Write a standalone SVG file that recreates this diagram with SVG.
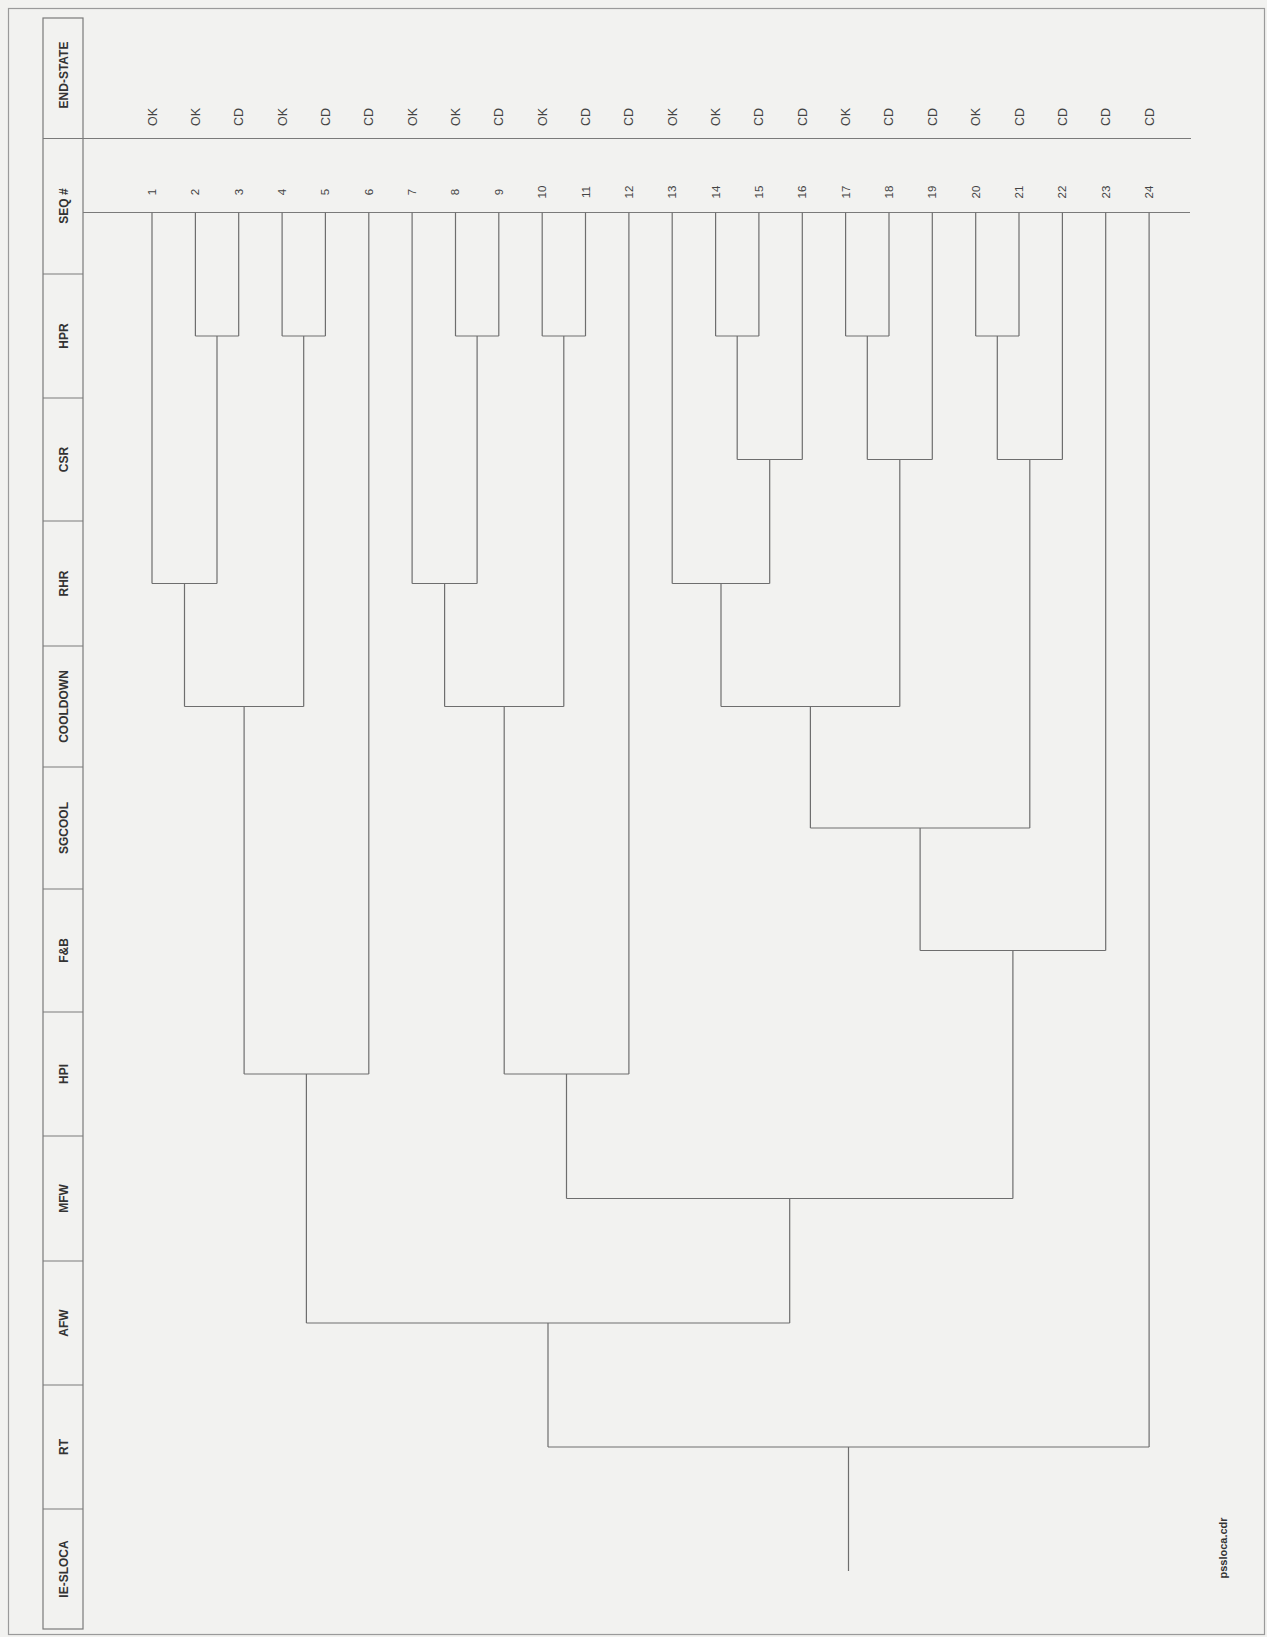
<svg xmlns="http://www.w3.org/2000/svg" width="1267" height="1637" viewBox="0 0 1267 1637">
<style>
.bg{fill:#f2f2f0}
.frame{fill:none;stroke:#9a9a9a;stroke-width:1.2}
.col{fill:none;stroke:#7a7a7a;stroke-width:1.2}
.ln{fill:none;stroke:#6e6e6e;stroke-width:1.2}
.hd{font-family:"Liberation Sans",Arial,sans-serif;font-size:12px;font-weight:bold;fill:#333;text-anchor:middle}
.es{font-family:"Liberation Sans",Arial,sans-serif;font-size:12.5px;fill:#444;text-anchor:middle}
.sq{font-family:"Liberation Sans",Arial,sans-serif;font-size:11.5px;fill:#444;text-anchor:middle}
</style>
<rect class="bg" x="0" y="0" width="1267" height="1637"/>
<rect class="frame" x="8.5" y="8.5" width="1256" height="1626"/>

<g id="headers">
<rect class="col" x="43" y="18" width="40" height="1611"/>
<g id="h-endstate"><text class="hd" transform="translate(67.5,75) rotate(-90)">END-STATE</text></g>
<line class="col" x1="43" y1="138.5" x2="83" y2="138.5"/>
<g id="h-seq"><text class="hd" transform="translate(67.5,206) rotate(-90)">SEQ #</text></g>
<line class="col" x1="43" y1="274" x2="83" y2="274"/>
<g id="h-hpr"><text class="hd" transform="translate(67.5,336) rotate(-90)">HPR</text></g>
<line class="col" x1="43" y1="398" x2="83" y2="398"/>
<g id="h-csr"><text class="hd" transform="translate(67.5,459.5) rotate(-90)">CSR</text></g>
<line class="col" x1="43" y1="521" x2="83" y2="521"/>
<g id="h-rhr"><text class="hd" transform="translate(67.5,583.5) rotate(-90)">RHR</text></g>
<line class="col" x1="43" y1="646" x2="83" y2="646"/>
<g id="h-cooldown"><text class="hd" transform="translate(67.5,706.5) rotate(-90)">COOLDOWN</text></g>
<line class="col" x1="43" y1="767" x2="83" y2="767"/>
<g id="h-sgcool"><text class="hd" transform="translate(67.5,828) rotate(-90)">SGCOOL</text></g>
<line class="col" x1="43" y1="889" x2="83" y2="889"/>
<g id="h-fb"><text class="hd" transform="translate(67.5,950.5) rotate(-90)">F&amp;B</text></g>
<line class="col" x1="43" y1="1012" x2="83" y2="1012"/>
<g id="h-hpi"><text class="hd" transform="translate(67.5,1074) rotate(-90)">HPI</text></g>
<line class="col" x1="43" y1="1136" x2="83" y2="1136"/>
<g id="h-mfw"><text class="hd" transform="translate(67.5,1198.5) rotate(-90)">MFW</text></g>
<line class="col" x1="43" y1="1261" x2="83" y2="1261"/>
<g id="h-afw"><text class="hd" transform="translate(67.5,1323) rotate(-90)">AFW</text></g>
<line class="col" x1="43" y1="1385" x2="83" y2="1385"/>
<g id="h-rt"><text class="hd" transform="translate(67.5,1447) rotate(-90)">RT</text></g>
<line class="col" x1="43" y1="1509" x2="83" y2="1509"/>
<g id="h-ie"><text class="hd" transform="translate(67.5,1569) rotate(-90)">IE-SLOCA</text></g>
</g>

<g id="rules">
<line class="col" x1="83" y1="138.5" x2="1191" y2="138.5"/>
<line class="col" x1="83" y1="212.5" x2="1190" y2="212.5"/>
</g>

<g id="sequences">
<g id="seq1"><text class="es" transform="translate(156.5,117) rotate(-90)">OK</text><text class="sq" transform="translate(156,192) rotate(-90)">1</text></g>
<g id="seq2"><text class="es" transform="translate(199.8,117) rotate(-90)">OK</text><text class="sq" transform="translate(199.3,192) rotate(-90)">2</text></g>
<g id="seq3"><text class="es" transform="translate(243.2,117) rotate(-90)">CD</text><text class="sq" transform="translate(242.7,192) rotate(-90)">3</text></g>
<g id="seq4"><text class="es" transform="translate(286.5,117) rotate(-90)">OK</text><text class="sq" transform="translate(286,192) rotate(-90)">4</text></g>
<g id="seq5"><text class="es" transform="translate(329.9,117) rotate(-90)">CD</text><text class="sq" transform="translate(329.4,192) rotate(-90)">5</text></g>
<g id="seq6"><text class="es" transform="translate(373.2,117) rotate(-90)">CD</text><text class="sq" transform="translate(372.7,192) rotate(-90)">6</text></g>
<g id="seq7"><text class="es" transform="translate(416.6,117) rotate(-90)">OK</text><text class="sq" transform="translate(416.1,192) rotate(-90)">7</text></g>
<g id="seq8"><text class="es" transform="translate(459.9,117) rotate(-90)">OK</text><text class="sq" transform="translate(459.4,192) rotate(-90)">8</text></g>
<g id="seq9"><text class="es" transform="translate(503.3,117) rotate(-90)">CD</text><text class="sq" transform="translate(502.8,192) rotate(-90)">9</text></g>
<g id="seq10"><text class="es" transform="translate(546.6,117) rotate(-90)">OK</text><text class="sq" transform="translate(546.1,192) rotate(-90)">10</text></g>
<g id="seq11"><text class="es" transform="translate(590,117) rotate(-90)">CD</text><text class="sq" transform="translate(589.5,192) rotate(-90)">11</text></g>
<g id="seq12"><text class="es" transform="translate(633.3,117) rotate(-90)">CD</text><text class="sq" transform="translate(632.8,192) rotate(-90)">12</text></g>
<g id="seq13"><text class="es" transform="translate(676.7,117) rotate(-90)">OK</text><text class="sq" transform="translate(676.2,192) rotate(-90)">13</text></g>
<g id="seq14"><text class="es" transform="translate(720,117) rotate(-90)">OK</text><text class="sq" transform="translate(719.5,192) rotate(-90)">14</text></g>
<g id="seq15"><text class="es" transform="translate(763.4,117) rotate(-90)">CD</text><text class="sq" transform="translate(762.9,192) rotate(-90)">15</text></g>
<g id="seq16"><text class="es" transform="translate(806.7,117) rotate(-90)">CD</text><text class="sq" transform="translate(806.2,192) rotate(-90)">16</text></g>
<g id="seq17"><text class="es" transform="translate(850.1,117) rotate(-90)">OK</text><text class="sq" transform="translate(849.6,192) rotate(-90)">17</text></g>
<g id="seq18"><text class="es" transform="translate(893.4,117) rotate(-90)">CD</text><text class="sq" transform="translate(892.9,192) rotate(-90)">18</text></g>
<g id="seq19"><text class="es" transform="translate(936.8,117) rotate(-90)">CD</text><text class="sq" transform="translate(936.3,192) rotate(-90)">19</text></g>
<g id="seq20"><text class="es" transform="translate(980.1,117) rotate(-90)">OK</text><text class="sq" transform="translate(979.6,192) rotate(-90)">20</text></g>
<g id="seq21"><text class="es" transform="translate(1023.5,117) rotate(-90)">CD</text><text class="sq" transform="translate(1023,192) rotate(-90)">21</text></g>
<g id="seq22"><text class="es" transform="translate(1066.8,117) rotate(-90)">CD</text><text class="sq" transform="translate(1066.3,192) rotate(-90)">22</text></g>
<g id="seq23"><text class="es" transform="translate(1110.2,117) rotate(-90)">CD</text><text class="sq" transform="translate(1109.7,192) rotate(-90)">23</text></g>
<g id="seq24"><text class="es" transform="translate(1153.5,117) rotate(-90)">CD</text><text class="sq" transform="translate(1153,192) rotate(-90)">24</text></g>
</g>

<g id="connectors">
<!-- leaf verticals -->
<path class="ln" d="M152 212.5V583.5 M195.4 212.5V336 M238.7 212.5V336 M282.1 212.5V336 M325.4 212.5V336 M368.8 212.5V1074 M412.1 212.5V583.5 M455.5 212.5V336 M498.8 212.5V336 M542.2 212.5V336 M585.5 212.5V336 M628.9 212.5V1074 M672.2 212.5V583.5 M715.6 212.5V336 M758.9 212.5V336 M802.3 212.5V459.5 M845.6 212.5V336 M889 212.5V336 M932.3 212.5V459.5 M975.7 212.5V336 M1019 212.5V336 M1062.4 212.5V459.5 M1105.7 212.5V950.5 M1149.1 212.5V1447"/>
<!-- HPR branches -->
<path class="ln" d="M195.4 336H238.7 M282.1 336H325.4 M455.5 336H498.8 M542.2 336H585.5 M715.6 336H758.9 M845.6 336H889 M975.7 336H1019"/>
<!-- node verticals after HPR -->
<path class="ln" d="M217 336V583.5 M303.7 336V706.5 M477.1 336V583.5 M563.8 336V706.5 M737.2 336V459.5 M867.3 336V459.5 M997.3 336V459.5"/>
<!-- CSR branches -->
<path class="ln" d="M737.2 459.5H802.3 M867.3 459.5H932.3 M997.3 459.5H1062.4 M769.7 459.5V583.5 M899.8 459.5V706.5 M1029.8 459.5V828"/>
<!-- RHR branches -->
<path class="ln" d="M152 583.5H217 M412.1 583.5H477.1 M672.2 583.5H769.7 M184.5 583.5V706.5 M444.6 583.5V706.5 M721 583.5V706.5"/>
<!-- COOLDOWN branches -->
<path class="ln" d="M184.5 706.5H303.7 M444.6 706.5H563.8 M721 706.5H899.8 M244.1 706.5V1074 M504.2 706.5V1074 M810.4 706.5V828"/>
<!-- SGCOOL -->
<path class="ln" d="M810.4 828H1029.8 M920.1 828V950.5"/>
<!-- F&B -->
<path class="ln" d="M920.1 950.5H1105.7 M1012.9 950.5V1198.5"/>
<!-- HPI -->
<path class="ln" d="M244.1 1074H368.8 M504.2 1074H628.9 M306.4 1074V1323 M566.5 1074V1198.5"/>
<!-- MFW -->
<path class="ln" d="M566.5 1198.5H1012.9 M789.7 1198.5V1323"/>
<!-- AFW -->
<path class="ln" d="M306.4 1323H789.7 M548 1323V1447"/>
<!-- RT -->
<path class="ln" d="M548 1447H1149.1 M848.5 1447V1571"/>
</g>

<g id="footer"><text class="hd" style="font-size:11px" transform="translate(1227,1548) rotate(-90)">pssloca.cdr</text></g>
</svg>
